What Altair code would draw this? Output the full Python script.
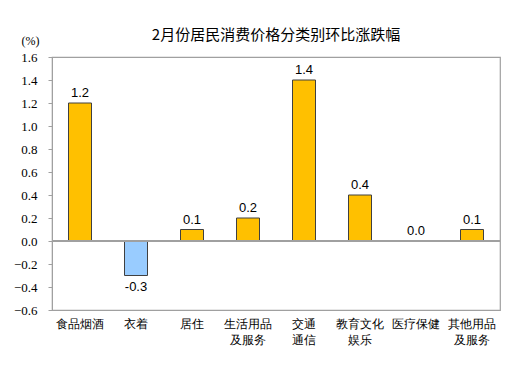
import altair as alt
import pandas as pd

categories = ["食品烟酒", "衣着", "居住", "生活用品\n及服务", "交通\n通信", "教育文化\n娱乐", "医疗保健", "其他用品\n及服务"]
values = [1.2, -0.3, 0.1, 0.2, 1.4, 0.4, 0.0, 0.1]
labels = ["1.2", "-0.3", "0.1", "0.2", "1.4", "0.4", "0.0", "0.1"]
y_ticks = [-0.6, -0.4, -0.2, 0.0, 0.2, 0.4, 0.6, 0.8, 1.0, 1.2, 1.4, 1.6]

df = pd.DataFrame({"cat": categories, "val": values, "lab": labels})
df["pos"] = df["val"] >= 0
df["z"] = 0.0

SERIF = "Liberation Serif"
SANS = "Liberation Sans"

yscale = alt.Scale(domain=[-0.6, 1.6], nice=False, zero=False)
xscale = alt.Scale(paddingInner=0.59, paddingOuter=0.295)

xaxis = alt.Axis(labelExpr="split(datum.label, '\\n')", labelAngle=0,
                 ticks=False, domain=False, labelFont=SANS,
                 labelFontSize=12, labelColor="#000000", labelLineHeight=16,
                 labelPadding=8, labelOverlap=False)
yaxis = alt.Axis(values=y_ticks, format=".1f", grid=False,
                 labelFont=SERIF, labelFontSize=13, labelOverlap=False,
                 labelColor="#000000", labelPadding=11,
                 tickSize=4, tickColor="#A0A0A0",
                 domainColor="#A0A0A0",
                 titleAngle=0, titleX=-22, titleY=-10, titleAlign="center",
                 titleFont=SERIF, titleFontSize=12,
                 titleFontWeight="normal", titleColor="#000000")

x = alt.X("cat:N", sort=categories, title=None, scale=xscale, axis=xaxis)
y = alt.Y("val:Q", title="(%)", scale=yscale, axis=yaxis)

base = alt.Chart(df)

bars = base.mark_bar(size=23, stroke="#404040", strokeWidth=1).encode(
    x=x, y=y,
    color=alt.Color("pos:N", scale=alt.Scale(domain=[True, False], range=["#FFC000", "#99CCFF"]), legend=None),
)

zero = base.mark_rule(color="#A0A0A0", strokeWidth=1.5).encode(
    y=alt.Y("z:Q", title="(%)", scale=yscale, axis=yaxis))

text_pos = base.transform_filter("datum.val >= 0").mark_text(dy=-10, font=SANS, fontSize=13, color="#000000").encode(
    x=x, y=y, text="lab:N")
text_neg = base.transform_filter("datum.val < 0").mark_text(dy=11, font=SANS, fontSize=13, color="#000000").encode(
    x=x, y=y, text="lab:N")

chart = alt.layer(bars, zero, text_pos, text_neg).properties(
    width=448, height=253,
    title=alt.TitleParams("2月份居民消费价格分类别环比涨跌幅", font="Noto Sans CJK SC",
                          fontSize=15, fontWeight="normal", color="#000000", offset=0, dy=9, anchor="middle"),
    autosize=alt.AutoSizeParams(type="none"),
    padding={"left": 52, "top": 57, "right": 29, "bottom": 68},
    background="white",
).configure_view(stroke="#A0A0A0", strokeWidth=1.2)

chart.save("out.html", embed_options={"renderer": "svg", "actions": False})
